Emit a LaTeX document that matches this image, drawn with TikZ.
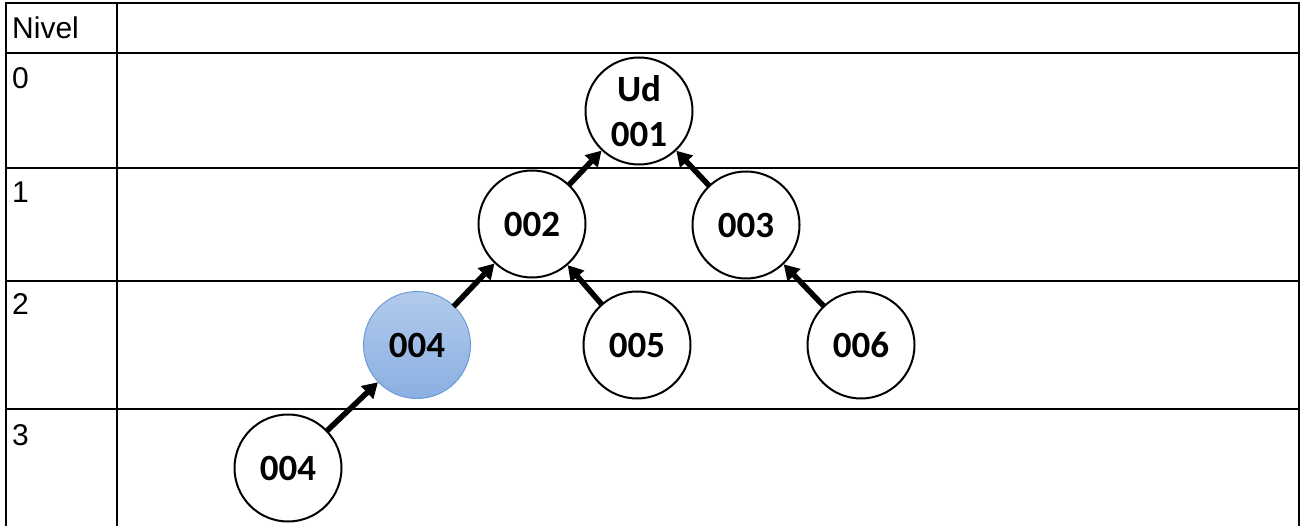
\documentclass[tikz,border=0pt]{standalone}
\usepackage{fontspec}
\setmainfont{Liberation Sans}
\newfontfamily\cf{Carlito}
\usetikzlibrary{arrows.meta}
\begin{document}
\begin{tikzpicture}[x=1pt,y=-1pt,
  grid/.style={line width=2pt,black},
  lvl/.style={anchor=base west,inner sep=0pt,font=\fontsize{30}{36}\selectfont},
  nd/.style={circle,draw,line width=2pt,minimum size=107pt,inner sep=0pt,fill=white,
    font=\cf\bfseries\fontsize{37}{45}\selectfont,align=center},
  sel/.style={nd,draw={rgb,255:red,110;green,155;blue,215},line width=1pt,
    top color={rgb,255:red,178;green,203;blue,236},bottom color={rgb,255:red,138;green,175;blue,225}},
  arr/.style={line width=5.5pt,-{Triangle[length=15pt,width=17pt]},shorten <=-1pt}]
\useasboundingbox (0,0) rectangle (1300,526);
% table
\draw[grid] (6,526) -- (6,3) -- (1299,3) -- (1299,526);
\draw[grid] (117,3) -- (117,526);
\draw[grid] (6,53) -- (1299,53);
\draw[grid] (6,168) -- (1299,168);
\draw[grid] (6,281) -- (1299,281);
\draw[grid] (6,409) -- (1299,409);
\node[lvl] (lh) at (12,39) {Nivel};
\node[lvl] (l0) at (12,89) {0};
\node[lvl] (l1) at (12,203) {1};
\node[lvl] (l2) at (12,315) {2};
\node[lvl] (l3) at (12,445) {3};
% nodes
\node[nd] (n1) at (639,111) {Ud\\001};
\node[nd] (n2) at (532,224) {002};
\node[nd] (n3) at (746,225) {003};
\node[sel] (n4) at (417,345) {004};
\node[nd] (n5) at (637,345) {005};
\node[nd] (n6) at (861,345) {006};
\node[nd] (n7) at (288,468) {004};
% arrows
\draw[arr] (n2) -- (n1);
\draw[arr] (n3) -- (n1);
\draw[arr] (n4) -- (n2);
\draw[arr] (n5) -- (n2);
\draw[arr] (n6) -- (n3);
\draw[arr] (n7) -- (n4);
\end{tikzpicture}
\end{document}
